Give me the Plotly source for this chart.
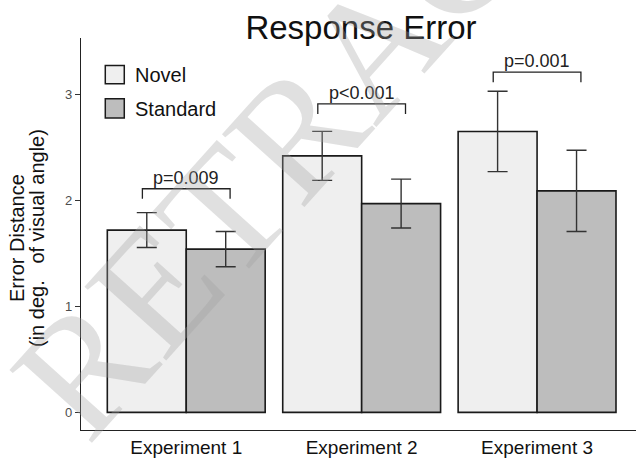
import plotly.graph_objects as go

# ---- data ----
experiments = ["Experiment 1", "Experiment 2", "Experiment 3"]
novel_mean = [1.72, 2.42, 2.65]
novel_err = [0.165, 0.231, 0.379]
standard_mean = [1.54, 1.97, 2.09]
standard_err = [0.166, 0.231, 0.383]
p_labels = ["p=0.009", "p<0.001", "p=0.001"]
bracket_y = [2.11, 2.91, 3.21]
y_ticks = [0, 1, 2, 3]

W, H = 636, 458
L, R, T, B = 80.7, 0, 38.3, 27.7
FONT = "Liberation Sans, Arial, Helvetica, sans-serif"

xpos = list(range(len(experiments)))

def px_to_paper(px, py):
    pw = W - L - R
    ph = H - T - B
    return (px - L) / pw, (H - B - py) / ph

fig = go.Figure()
fig.add_trace(go.Bar(
    x=xpos, y=novel_mean, name="Novel",
    marker=dict(color="#efefef", line=dict(color="#1a1a1a", width=1.6)),
    error_y=dict(type="data", array=novel_err, color="#333333", thickness=1.4, width=10),
))
fig.add_trace(go.Bar(
    x=xpos, y=standard_mean, name="Standard",
    marker=dict(color="#bdbdbd", line=dict(color="#1a1a1a", width=1.6)),
    error_y=dict(type="data", array=standard_err, color="#333333", thickness=1.4, width=10),
))

# significance brackets
shapes = []
annotations = []
for xc, yb, lab in zip(xpos, bracket_y, p_labels):
    x0, x1 = xc - 0.25, xc + 0.25
    leg = 0.095
    shapes.append(dict(type="path", xref="x", yref="y",
                       path=f"M {x0},{yb-leg} L {x0},{yb} L {x1},{yb} L {x1},{yb-leg}",
                       line=dict(color="#222222", width=1.3)))
    annotations.append(dict(x=xc, y=yb, xref="x", yref="y", text=lab, showarrow=False,
                            xanchor="center", yanchor="bottom", yshift=-1,
                            font=dict(family=FONT, size=18, color="#222222")))

# manual legend
for (name, col, top, bot, ty) in [("Novel", "#efefef", 65.7, 84, 75.5),
                                  ("Standard", "#bdbdbd", 99, 118.3, 109)]:
    x0, y0 = px_to_paper(105, bot)
    x1, y1 = px_to_paper(124, top)
    shapes.append(dict(type="rect", xref="paper", yref="paper", x0=x0, x1=x1, y0=y0, y1=y1,
                       fillcolor=col, line=dict(color="#1a1a1a", width=1.5)))
    tx, tyy = px_to_paper(133, ty)
    annotations.append(dict(x=tx, y=tyy, xref="paper", yref="paper", text=name, showarrow=False,
                            xanchor="left", yanchor="middle",
                            font=dict(family=FONT, size=20, color="#111111")))

# y-axis title (two lines)
cy = px_to_paper(0, 238)[1]
annotations.append(dict(x=0, y=cy, xref="paper", yref="paper", xshift=16 - L,
                        text="Error Distance", textangle=-90, showarrow=False,
                        xanchor="center", yanchor="middle",
                        font=dict(family=FONT, size=20, color="#111111")))
annotations.append(dict(x=0, y=cy, xref="paper", yref="paper", xshift=36 - L,
                        text="(in deg.\u00a0\u00a0 of visual angle)", textangle=-90, showarrow=False,
                        xanchor="center", yanchor="middle",
                        font=dict(family=FONT, size=20, color="#111111")))

# watermark
wx, wy = px_to_paper(376, 42)
annotations.append(dict(x=wx, y=wy, xref="paper", yref="paper", text="RETRACTED",
                        textangle=-48, showarrow=False, xanchor="center", yanchor="middle",
                        font=dict(family="Liberation Serif, Times New Roman, serif", size=168,
                                  color="rgba(160,160,160,0.33)")))

fig.update_layout(
    width=W, height=H,
    margin=dict(l=L, r=R, t=T, b=B, pad=0),
    paper_bgcolor="white", plot_bgcolor="white",
    barmode="group", bargap=0.1, bargroupgap=0,
    showlegend=False,
    font=dict(family=FONT, color="#111111"),
    title=dict(text="Response Error", x=361 / W, xanchor="center", xref="container",
               y=1 - 27.5 / H, yanchor="middle", yref="container",
               font=dict(family=FONT, size=33, color="#111111")),
    shapes=shapes, annotations=annotations,
)
fig.update_xaxes(range=[-0.6, 2.564], tickvals=xpos, ticktext=experiments,
                 showline=True, linecolor="#222222", linewidth=1.2, ticks="",
                 showgrid=False, zeroline=False,
                 tickfont=dict(family=FONT, size=19, color="#111111"))
fig.update_yaxes(range=[-0.166, 3.532], tickvals=y_ticks,
                 showline=True, linecolor="#222222", linewidth=1.2,
                 ticks="outside", ticklen=5, tickcolor="#333333", tickwidth=1,
                 showgrid=False, zeroline=False,
                 tickfont=dict(family=FONT, size=13, color="#4d4d4d"))

fig.write_html("out.html", config={"displayModeBar": False},
               post_script="document.body.style.margin='0';document.body.style.overflow='hidden';")
